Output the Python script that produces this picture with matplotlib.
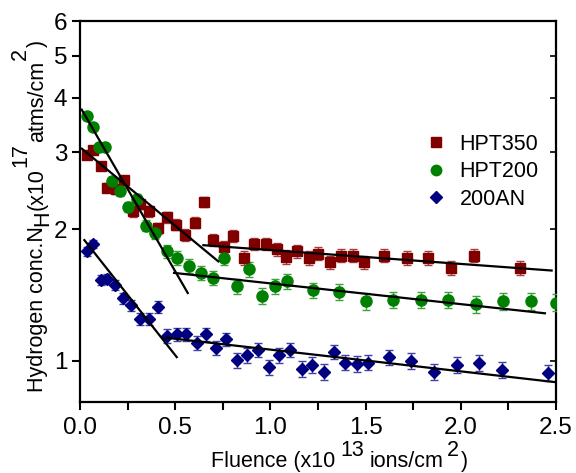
import numpy as np
import matplotlib
matplotlib.use("Agg")
import matplotlib.pyplot as plt
from matplotlib.lines import Line2D
from matplotlib.ticker import FixedLocator, NullLocator, FixedFormatter, MultipleLocator

plt.rcParams['font.family'] = ['Liberation Sans', 'DejaVu Sans']

# HPT350 (squares)
x350 = [0.035, 0.07, 0.11, 0.14, 0.19, 0.23, 0.277, 0.315, 0.362, 0.408, 0.455, 0.504,
        0.551, 0.604, 0.651, 0.697, 0.756, 0.805, 0.862, 0.916, 0.975, 1.033, 1.082,
        1.14, 1.203, 1.252, 1.313, 1.371, 1.432, 1.492, 1.598, 1.719, 1.83, 1.947,
        2.069, 2.311]
y350 = [2.96, 3.04, 2.80, 2.49, 2.47, 2.59, 2.20, 2.29, 2.20, 2.01, 2.13, 2.05,
        1.94, 2.07, 2.31, 1.89, 1.82, 1.93, 1.72, 1.85, 1.85, 1.80, 1.73,
        1.78, 1.72, 1.76, 1.68, 1.74, 1.74, 1.68, 1.74, 1.72, 1.72, 1.63,
        1.74, 1.63]

# HPT200 (circles)
x200 = [0.035, 0.07, 0.10, 0.13, 0.166, 0.21, 0.25, 0.298, 0.347, 0.394, 0.455, 0.511,
        0.572, 0.635, 0.697, 0.756, 0.823, 0.885, 0.954, 1.024, 1.086, 1.225, 1.36,
        1.50, 1.645, 1.789, 1.934, 2.08, 2.223, 2.369, 2.50]
y200 = [3.64, 3.43, 3.08, 3.08, 2.58, 2.45, 2.25, 2.35, 2.04, 1.96, 1.78, 1.72,
        1.65, 1.59, 1.55, 1.72, 1.48, 1.62, 1.41, 1.48, 1.52, 1.45, 1.44,
        1.37, 1.38, 1.38, 1.38, 1.35, 1.37, 1.37, 1.36]

# 200AN (diamonds)
xan = [0.035, 0.07, 0.109, 0.144, 0.184, 0.228, 0.268, 0.315, 0.362, 0.408, 0.455, 0.508,
       0.557, 0.613, 0.662, 0.713, 0.767, 0.823, 0.875, 0.933, 0.993, 1.047, 1.103,
       1.164, 1.22, 1.281, 1.334, 1.392, 1.453, 1.514, 1.623, 1.738, 1.861, 1.978,
       2.096, 2.218, 2.46]
yan = [1.78, 1.85, 1.53, 1.54, 1.49, 1.39, 1.34, 1.25, 1.25, 1.33, 1.14, 1.15,
       1.15, 1.10, 1.15, 1.07, 1.12, 1.005, 1.03, 1.06, 0.967, 1.03, 1.06,
       0.957, 0.979, 0.942, 1.05, 0.991, 0.984, 0.991, 1.02, 1.00, 0.942, 0.979,
       0.99, 0.953, 0.94]

err350, err200, erran = 0.06, 0.06, 0.04

# fitted lines (start/end)
fit350_a = ([0.01, 0.726], [3.06, 1.69])
fit350_b = ([0.648, 2.477], [1.84, 1.61])
fit200_a = ([0.009, 0.566], [3.76, 1.43])
fit200_b = ([0.494, 2.442], [1.59, 1.285])
fitan_a = ([0.023, 0.508], [1.89, 1.02])
fitan_b = ([0.45, 2.495], [1.13, 0.894])

c350, c200, can = '#800000', '#008000', '#000080'

W, H = 576, 473
fig = plt.figure(figsize=(W / 100, H / 100), dpi=100)
ax = fig.add_axes([80 / W, 1 - 402 / H, 476 / W, 381 / H])

ax.errorbar(x350, y350, yerr=err350, fmt='s', color=c350, ms=7.3, capsize=3,
            elinewidth=1, ecolor='#a04040', zorder=3)
ax.errorbar(x200, y200, yerr=err200, fmt='o', color=c200, ms=8, capsize=3,
            elinewidth=1, ecolor='#40a040', zorder=3)
ax.errorbar(xan, yan, yerr=erran, fmt='D', color=can, ms=6.3, capsize=3,
            elinewidth=1, ecolor='#4040a0', zorder=3)

for fx, fy in [fit350_a, fit350_b, fit200_a, fit200_b, fitan_a, fitan_b]:
    ax.plot(fx, fy, color='black', lw=1.6, zorder=4)

ax.set_yscale('log')
ax.set_xlim(0, 2.5)
ax.set_ylim(0.805, 6)
ax.yaxis.set_major_locator(FixedLocator([1, 2, 3, 4, 5, 6]))
ax.yaxis.set_major_formatter(FixedFormatter(['1', '2', '3', '4', '5', '6']))
ax.yaxis.set_minor_locator(NullLocator())
ax.xaxis.set_major_locator(MultipleLocator(0.5))
ax.xaxis.set_minor_locator(MultipleLocator(0.25))
ax.xaxis.set_major_formatter(matplotlib.ticker.FormatStrFormatter('%.1f'))

for s in ax.spines.values():
    s.set_linewidth(1.6)
ax.tick_params(axis='both', which='both', direction='out', width=1.5, labelsize=17.5)
ax.tick_params(axis='x', which='both', length=6, pad=5)
ax.tick_params(axis='y', which='major', length=6, pad=3)

# inward ticks on the right spine
ax2 = ax.twinx()
ax2.set_yscale('log')
ax2.set_ylim(ax.get_ylim())
ax2.yaxis.set_major_locator(FixedLocator([1, 2, 3, 4, 5, 6]))
ax2.yaxis.set_minor_locator(NullLocator())
ax2.tick_params(axis='y', direction='in', length=4, width=1.2, labelright=False)
for s in ax2.spines.values():
    s.set_visible(False)

# legend (markers only)
handles = [Line2D([], [], ls='none', marker='s', color=c350, ms=7),
           Line2D([], [], ls='none', marker='o', color=c200, ms=7.5),
           Line2D([], [], ls='none', marker='D', color=can, ms=6)]
ax.legend(handles, ['HPT350', 'HPT200', '200AN'], loc='upper left',
          bbox_to_anchor=(425 / W, 1 - 134 / H), bbox_transform=fig.transFigure,
          frameon=False, fontsize=15.5, borderpad=0, borderaxespad=0,
          handlelength=1.0, handletextpad=0.6, labelspacing=0.3)

# axis titles built from pieces so super/subscripts stay full size
fig.canvas.draw()
renderer = fig.canvas.get_renderer()


def chain(pieces, x0, y0, rotated, size):
    pos = x0 if not rotated else y0
    for txt, shift, gap in pieces:
        if rotated:
            t = fig.text((x0 - shift) / W, 1 - pos / H, txt, fontsize=size, rotation=90,
                         rotation_mode='anchor', ha='left', va='baseline')
            ext = t.get_window_extent(renderer)
            pos = pos - ext.height - gap
        else:
            t = fig.text(pos / W, 1 - (y0 - shift) / H, txt, fontsize=size,
                         ha='left', va='baseline')
            ext = t.get_window_extent(renderer)
            pos = pos + ext.width + gap


xlabel_pieces = [('Fluence (x10', 0, 5), ('13', 11, 6), ('ions/cm', 0, 3), ('2', 11, 2), (')', 0, 0)]
ylabel_pieces = [('Hydrogen conc.N', 0, 0), ('H', -5, 1), ('(x10', 0, 1), ('17', 17, 1),
                 ('atms/cm', 0, 1), ('2', 17, 1), (')', 0, 0)]
chain(xlabel_pieces, 211, 467, False, 15.5)
chain(ylabel_pieces, 43, 392, True, 15.5)

fig.savefig('out.png', dpi=100)
